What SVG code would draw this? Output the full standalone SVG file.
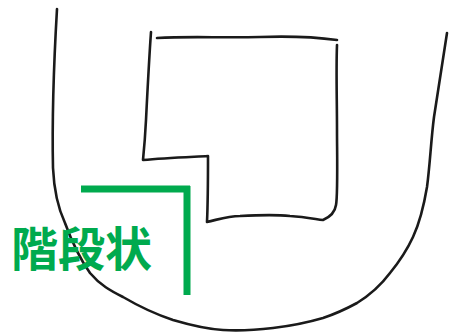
<svg xmlns="http://www.w3.org/2000/svg" width="449" height="336" viewBox="0 0 449 336">
<style>
.ink{fill:none;stroke:#1a1a1a;stroke-width:2.6;stroke-linecap:round;stroke-linejoin:round}
.grn{fill:none;stroke:#00AA4E;stroke-width:7;stroke-linecap:butt}
.lbl{font-family:"Noto Sans CJK JP","Noto Sans CJK SC",sans-serif;font-weight:700;font-size:47px;fill:#00AA4E}
</style>
<rect width="449" height="336" fill="#fff"/>
<g id="outer">
<path class="ink" d="M57,9 C54,60 52,120 53,168 C54,190 58,208 65,223 C72,242 80,259 90,273 C100,285 111,291 123,297 C140,307 155,314 173,320 C190,325 205,329 223,330 C240,331 256,330 273,328 C290,326 306,323 323,318 C335,314 346,309 357,303 C370,295 381,285 390,273 C399,262 407,250 413,237 C420,222 424,205 427,187 C430,165 431,140 434,117 C438,90 443,60 447,33"/>
</g>
<g id="inner">
<path class="ink" d="M151,32 C149,60 147,100 146,120 C145,140 144,150 143,160 C165,158 190,157 208,156 C208,175 208,200 207,222 C220,219 228,216 240,216 C260,215 280,215 290,216 C305,217 315,219 323,220 C330,217 335,212 336,205 C338,195 337,150 337,130 C337,100 336,70 337,45"/>
<path class="ink" d="M157,38 C190,36 220,38 260,37 C290,36 315,37 337,40"/>
</g>
<g id="step-marker">
<path class="grn" d="M81,189 H190 M187,186 V295"/>
</g>
<g id="label">
<text class="lbl" x="11" y="266">階段状</text>
</g>
</svg>
